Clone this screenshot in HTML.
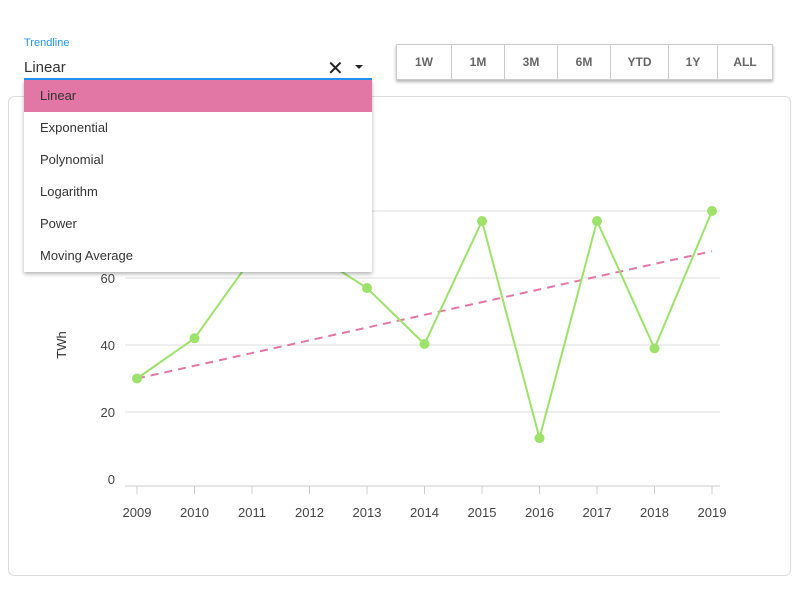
<!DOCTYPE html>
<html><head><meta charset="utf-8">
<style>
body{margin:0;width:800px;height:595px;background:#fff;font-family:"Liberation Sans",sans-serif;position:relative;overflow:hidden}
.card{position:absolute;left:8px;top:96px;width:783px;height:480px;border:1px solid #ddd;border-radius:6px;box-sizing:border-box}
.lbl{position:absolute;left:24px;top:37px;font-size:11px;color:#2196f3}
.sel{position:absolute;left:24px;top:56px;width:348px;height:22px;border-bottom:2px solid #2196f3;font-size:15px;color:#333}
.sel .v{position:absolute;left:0;top:3px}
.sel .x{position:absolute;left:303px;top:0px;font-size:20px;color:#222}
.sel .a{position:absolute;left:331px;top:9px;width:0;height:0;border-left:4px solid transparent;border-right:4px solid transparent;border-top:4px solid #222}
.menu{position:absolute;left:24px;top:80px;width:348px;height:192px;background:#fff;box-shadow:0 2px 4px rgba(0,0,0,.3);z-index:5}
.menu div{height:32px;line-height:32px;padding-left:16px;font-size:13px;color:#333}
.menu .on{background:#e277a6}
.btns{position:absolute;left:396px;top:44px;height:34px;display:flex;box-shadow:0 2px 3px rgba(0,0,0,.3);border:1px solid #ccc}
.btns div{height:34px;line-height:34px;text-align:center;font-size:12px;font-weight:bold;color:#666;border-right:1px solid #ccc;box-sizing:border-box}
svg{position:absolute;left:0;top:0}
</style></head><body>
<div class="card"></div>
<svg width="800" height="595" id="ch"></svg>
<div class="lbl">Trendline</div>
<div class="sel"><span class="v">Linear</span><span class="x">✕</span><span class="a"></span></div>
<div class="menu">
<div class="on">Linear</div>
<div>Exponential</div>
<div>Polynomial</div>
<div>Logarithm</div>
<div>Power</div>
<div>Moving Average</div>
</div>
<div class="btns">
<div style="width:55px">1W</div>
<div style="width:53px">1M</div>
<div style="width:53px">3M</div>
<div style="width:53px">6M</div>
<div style="width:58px">YTD</div>
<div style="width:49px">1Y</div>
<div style="width:54px;border-right:none">ALL</div>
</div>
<script>
const years=[2009,2010,2011,2012,2013,2014,2015,2016,2017,2018,2019];
const values=[30,42,66,68,57,40.3,77,12.2,77,39,80];
const trendValues=[30,68];
const yTicks=[0,20,40,60,80];
const NS="http://www.w3.org/2000/svg",s=document.getElementById('ch');
const X=i=>137+i*57.5, Y=v=>479-v*3.35;
function mk(t,a){const e=document.createElementNS(NS,t);for(const k in a)e.setAttribute(k,a[k]);s.appendChild(e);return e;}
yTicks.forEach(v=>{
 if(v>0){
 const g=mk('line',{x1:125,x2:720,y1:Y(v),y2:Y(v),stroke:'#eeeeee','stroke-width':2});
 
 
 }
 const t=mk('text',{x:115,y:Y(v)+5,'text-anchor':'end','font-size':13,fill:'#444','font-family':'Liberation Sans'});t.textContent=v;
 
 
});
const ax=mk('line',{x1:125,x2:720,y1:486,y2:486,stroke:'#ccc','stroke-width':1});


years.forEach((yr,i)=>{
 const tk=mk('line',{x1:X(i),x2:X(i),y1:486,y2:494,stroke:'#ccc'});
 
 
 const t=mk('text',{x:X(i),y:517,'text-anchor':'middle','font-size':13,fill:'#444','font-family':'Liberation Sans'});t.textContent=yr;
 
 
});
const yt=mk('text',{x:66,y:345,'text-anchor':'middle','font-size':13,fill:'#333',transform:'rotate(-90 66 345)','font-family':'Liberation Sans'});yt.textContent='TWh';


const tr=mk('line',{x1:X(0),y1:Y(trendValues[0]),x2:X(years.length-1),y2:Y(trendValues[1]),stroke:'#e277a6','stroke-width':2,'stroke-dasharray':'8,6'});


const ln=mk('polyline',{points:values.map((v,i)=>X(i)+','+Y(v)).join(' '),fill:'none',stroke:'#9ee26b','stroke-width':2});


values.forEach((v,i)=>{
 const c=mk('circle',{cx:X(i),cy:Y(v),r:5,fill:'#9ee26b'});
 
 
});
</script>
</body></html>
